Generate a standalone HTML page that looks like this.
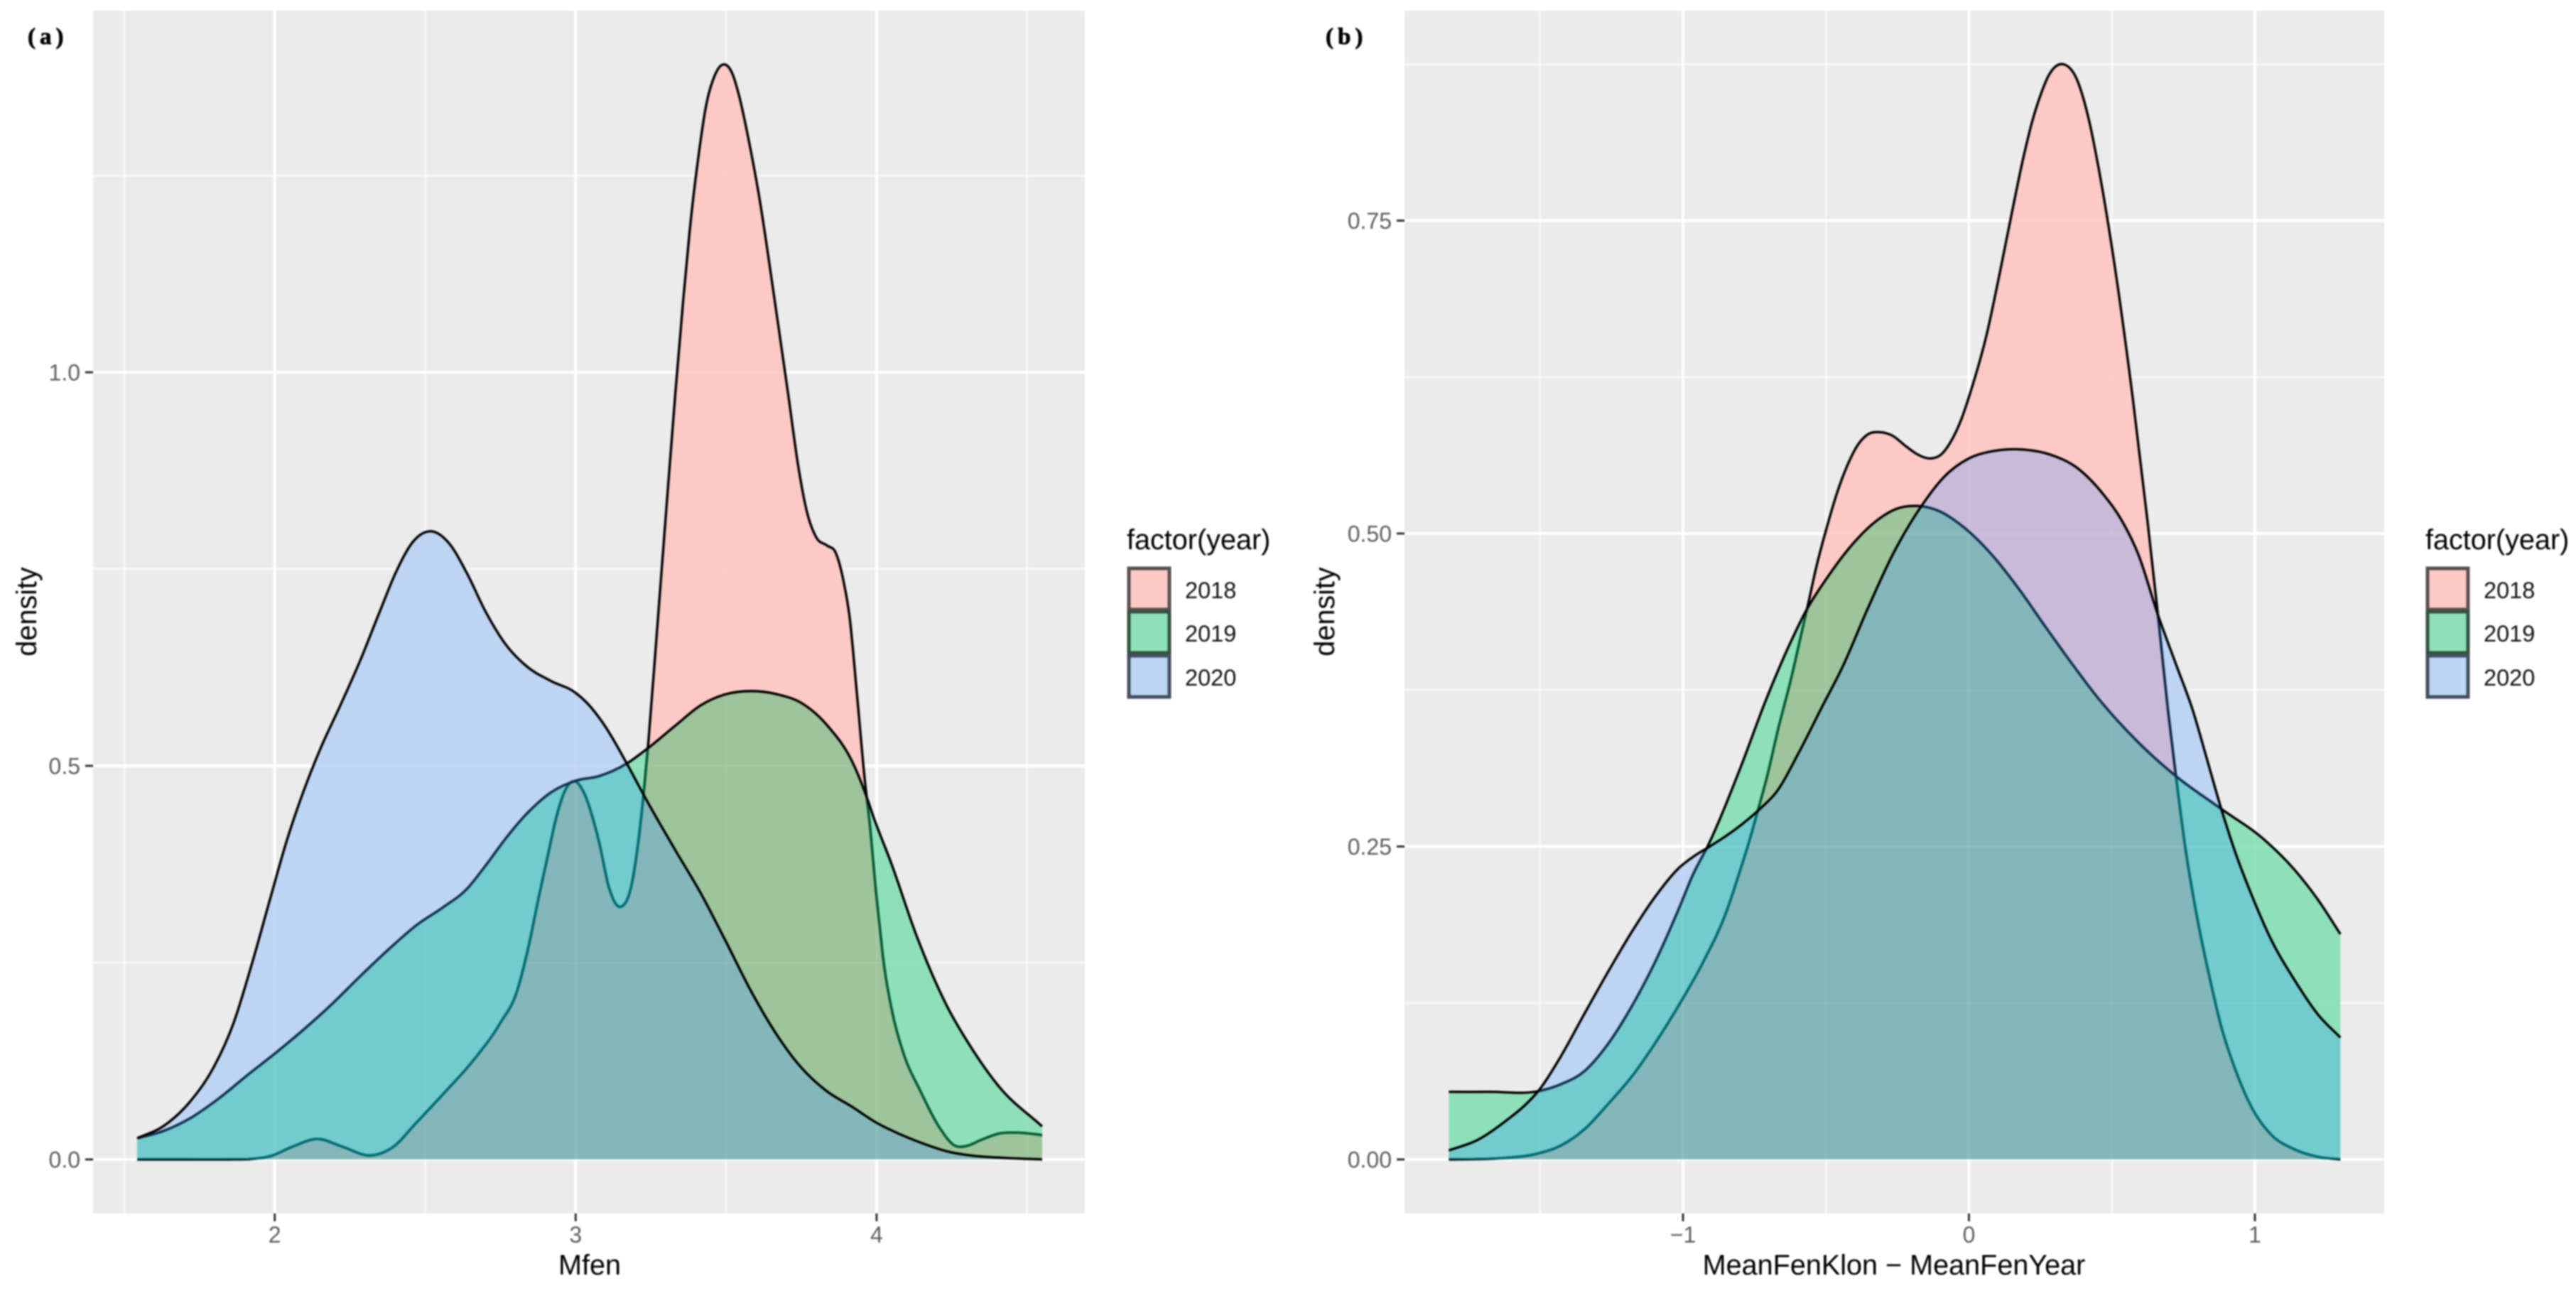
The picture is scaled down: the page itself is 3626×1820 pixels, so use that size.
<!DOCTYPE html>
<html lang="en">
<head>
<meta charset="utf-8">
<title>Density plots of Mfen and MeanFenKlon − MeanFenYear</title>
<style>
html,body{margin:0;padding:0;background:#fff;width:3626px;height:1820px;overflow:hidden}
svg{display:block;filter:blur(1px)}
text{font-family:"Liberation Sans",sans-serif}
.tick{font-size:32px;fill:#5e5e5e}
.title{font-size:39.6px;fill:#000}
.legend-label{font-size:32.5px;fill:#111}
.panel-tag{font-family:"Liberation Serif",serif;font-weight:bold;font-size:33px;letter-spacing:6px;fill:#000;stroke:#000;stroke-width:0.8px}
</style>
</head>
<body>
<svg id="chart" xmlns="http://www.w3.org/2000/svg" width="3626" height="1820" viewBox="0 0 3626 1820">
  <rect x="0" y="0" width="3626" height="1820" fill="#ffffff"/>
  <defs id="defs"></defs>
  <g id="panel-a"></g>
  <g id="panel-b"></g>

  <text class="panel-tag" x="39" y="62">(a)</text>
  <text class="panel-tag" x="1866" y="62">(b)</text>

  <text class="title" x="830" y="1794" text-anchor="middle">Mfen</text>
  <text class="title" transform="translate(51,861) rotate(-90)" text-anchor="middle">density</text>
  <text class="title" x="2666" y="1794" text-anchor="middle">MeanFenKlon − MeanFenYear</text>
  <text class="title" transform="translate(1878,861) rotate(-90)" text-anchor="middle">density</text>

  <g>
    <text class="title" x="1586" y="773">factor(year)</text>
    <g>
      <rect x="1589" y="800" width="57" height="58" fill="#FCC9C5" stroke="#5a5050" stroke-width="5"/>
      <text class="legend-label" x="1668" y="842">2018</text>
    </g>
    <g>
      <rect x="1589" y="861" width="57" height="58" fill="#8DE0B8" stroke="#34523f" stroke-width="5"/>
      <text class="legend-label" x="1668" y="903">2019</text>
    </g>
    <g>
      <rect x="1589" y="923" width="57" height="58" fill="#BDD4F3" stroke="#454f60" stroke-width="5"/>
      <text class="legend-label" x="1668" y="965">2020</text>
    </g>
  </g>

  <g>
    <text class="title" x="3414" y="773">factor(year)</text>
    <g>
      <rect x="3417" y="800" width="57" height="58" fill="#FCC9C5" stroke="#5a5050" stroke-width="5"/>
      <text class="legend-label" x="3496" y="842">2018</text>
    </g>
    <g>
      <rect x="3417" y="861" width="57" height="58" fill="#8DE0B8" stroke="#34523f" stroke-width="5"/>
      <text class="legend-label" x="3496" y="903">2019</text>
    </g>
    <g>
      <rect x="3417" y="923" width="57" height="58" fill="#BDD4F3" stroke="#454f60" stroke-width="5"/>
      <text class="legend-label" x="3496" y="965">2020</text>
    </g>
  </g>
</svg>

<script>
// ---- Panel (a): Mfen ----
const mfenTicksX = [2, 3, 4];
const mfenTickLabelsX = ["2", "3", "4"];
const mfenMinorX = [1.5, 2.5, 3.5, 4.5];
const mfenTicksY = [0, 0.5, 1];
const mfenTickLabelsY = ["0.0", "0.5", "1.0"];
const mfenMinorY = [0.25, 0.75, 1.25];

const mfenX2018 = [1.543,1.7,1.85,1.92,1.984,2.058,2.142,2.226,2.32,2.394,2.469,2.562,2.656,2.749,2.805,2.842,2.88,2.908,2.936,2.964,3.0,3.026,3.078,3.111,3.15,3.187,3.208,3.225,3.242,3.267,3.30,3.331,3.357,3.379,3.41,3.434,3.46,3.49,3.52,3.544,3.575,3.609,3.66,3.707,3.74,3.767,3.80,3.835,3.865,3.89,3.91,3.935,3.96,3.979,3.998,4.012,4.022,4.05,4.085,4.148,4.21,4.258,4.298,4.345,4.408,4.47,4.55];
const mfenD2018 = [0,0,0,.0005,.004,.016,.026,.016,.005,.016,.046,.084,.124,.173,.2135,.268,.338,.387,.435,.468,.48,.467,.403,.345,.321,.351,.403,.461,.532,.655,.82,.972,1.09,1.18,1.28,1.34,1.375,1.391,1.38,1.35,1.295,1.225,1.095,.97,.88,.825,.79,.78,.77,.735,.69,.59,.485,.42,.34,.29,.255,.191,.14,.085,.04,.018,.017,.0244,.033,.034,.031];
const mfenX2019 = [1.543,1.629,1.722,1.816,1.909,2.002,2.096,2.189,2.282,2.376,2.469,2.562,2.637,2.702,2.768,2.842,2.917,2.999,3.078,3.17,3.242,3.331,3.416,3.499,3.584,3.669,3.754,3.837,3.922,3.972,3.987,4.05,4.132,4.235,4.313,4.408,4.55];
const mfenD2019 = [.027,.036,.053,.078,.107,.135,.165,.197,.232,.266,.297,.321,.343,.374,.408,.441,.466,.481,.487,.503,.523,.551,.577,.591,.595,.591,.579,.551,.503,.455,.438,.375,.285,.194,.143,.092,.042];
const mfenX2020 = [1.543,1.629,1.722,1.797,1.862,1.923,1.984,2.04,2.096,2.152,2.217,2.282,2.348,2.404,2.46,2.52,2.581,2.637,2.702,2.768,2.842,2.917,2.999,3.035,3.095,3.17,3.229,3.331,3.416,3.499,3.584,3.669,3.74,3.83,3.92,3.998,4.078,4.156,4.235,4.313,4.423,4.55];
const mfenD2020 = [.027,.042,.075,.117,.172,.247,.33,.405,.468,.522,.576,.632,.695,.747,.785,.798,.782,.746,.695,.654,.625,.608,.593,.581,.552,.503,.461,.393,.338,.277,.213,.158,.121,.088,.0665,.047,.032,.02,.0102,.005,.002,0];

// ---- Panel (b): MeanFenKlon - MeanFenYear ----
const diffTicksX = [-1, 0, 1];
const diffTickLabelsX = ["−1", "0", "1"];
const diffMinorX = [-1.5, -0.5, 0.5];
const diffTicksY = [0, 0.25, 0.5, 0.75];
const diffTickLabelsY = ["0.00", "0.25", "0.50", "0.75"];
const diffMinorY = [0.125, 0.375, 0.625, 0.875];

const diffX2018 = [-1.819,-1.635,-1.511,-1.428,-1.345,-1.263,-1.18,-1.097,-1.015,-.931,-.848,-.807,-.766,-.733,-.708,-.666,-.621,-.59,-.564,-.533,-.497,-.462,-.426,-.391,-.355,-.311,-.266,-.222,-.178,-.133,-.098,-.062,-.027,.004,.063,.105,.149,.19,.221,.25,.279,.328,.379,.42,.451,.509,.573,.624,.661,.696,.725,.758,.799,.841,.8825,.932,.99,1.056,1.139,1.222,1.299];
const diffD2018 = [0,.001,.0045,.011,.024,.044,.066,.093,.123,.157,.198,.226,.256,.283,.304,.345,.385,.416,.442,.474,.505,.532,.554,.57,.579,.581,.578,.57,.563,.56,.563,.574,.591,.612,.66,.705,.755,.8,.829,.85,.866,.875,.862,.83,.795,.715,.608,.511,.435,.359,.304,.247,.192,.146,.106,.0715,.041,.02,.008,.002,0];
const diffX2019 = [-1.819,-1.677,-1.503,-1.428,-1.345,-1.263,-1.18,-1.097,-1.015,-.965,-.91,-.799,-.71,-.622,-.568,-.498,-.409,-.33,-.25,-.178,-.105,-.018,.088,.177,.266,.354,.443,.593,.725,.8825,1.032,1.139,1.222,1.299];
const diffD2019 = [.054,.054,.0547,.06,.0705,.092,.122,.158,.2,.2276,.252,.313,.367,.414,.439,.464,.491,.509,.52,.522,.518,.505,.481,.455,.426,.398,.371,.333,.306,.28,.2556,.2313,.207,.18];
const diffX2020 = [-1.819,-1.718,-1.611,-1.552,-1.503,-1.428,-1.345,-1.263,-1.18,-1.097,-1.015,-.96,-.91,-.815,-.724,-.675,-.595,-.515,-.443,-.354,-.267,-.16,-.088,0,.088,.195,.285,.381,.471,.533,.593,.661,.725,.783,.833,.8825,.932,.99,1.056,1.139,1.222,1.299];
const diffD2020 = [.0072,.0156,.0323,.0435,.0555,.082,.1163,.1495,.1815,.21,.2327,.2425,.2495,.264,.2815,.293,.325,.361,.393,.44,.483,.524,.545,.56,.566,.567,.563,.552,.531,.511,.483,.435,.395,.3587,.3193,.28,.245,.2105,.176,.1432,.1154,.0974];

const NS = "http://www.w3.org/2000/svg";
const defsEl = document.getElementById("defs");

function make(tag, attrs, parent) {
  const el = document.createElementNS(NS, tag);
  for (const k in attrs) el.setAttribute(k, attrs[k]);
  if (parent) parent.appendChild(el);
  return el;
}

// Smooth cubic through the data points (non-uniform finite-difference tangents), in pixel space.
function linePath(xs, ys) {
  const n = xs.length, m = [], t = [];
  for (let i = 0; i < n - 1; i++) m.push((ys[i + 1] - ys[i]) / (xs[i + 1] - xs[i]));
  t.push(m[0]);
  for (let i = 1; i < n - 1; i++) {
    const h0 = xs[i] - xs[i - 1], h1 = xs[i + 1] - xs[i];
    t.push((h1 * m[i - 1] + h0 * m[i]) / (h0 + h1));
  }
  t.push(m[n - 2]);
  let d = "M" + xs[0].toFixed(2) + "," + ys[0].toFixed(2);
  for (let i = 0; i < n - 1; i++) {
    const h = (xs[i + 1] - xs[i]) / 3;
    d += "C" + (xs[i] + h).toFixed(2) + "," + (ys[i] + t[i] * h).toFixed(2) + " " +
         (xs[i + 1] - h).toFixed(2) + "," + (ys[i + 1] - t[i + 1] * h).toFixed(2) + " " +
         xs[i + 1].toFixed(2) + "," + ys[i + 1].toFixed(2);
  }
  return d;
}

function drawPanel(host, id, box, xScale, yScale, ax, series) {
  // background
  const bg = make("rect", {x: box.l, y: box.t, width: box.r - box.l, height: box.b - box.t, fill: "#EBEBEB"}, host);
  
  

  function grid(parent, opacity) {
    ax.minorX.forEach(v => {
      const g = make("line", {x1: xScale(v), x2: xScale(v), y1: box.t, y2: box.b, stroke: "#fff", "stroke-width": 2.4, "stroke-opacity": opacity * 0.7}, parent);
      
      
    });
    ax.minorY.forEach(v => {
      const g = make("line", {x1: box.l, x2: box.r, y1: yScale(v), y2: yScale(v), stroke: "#fff", "stroke-width": 2.4, "stroke-opacity": opacity * 0.7}, parent);
      
      
    });
    ax.ticksX.forEach(v => {
      const g = make("line", {x1: xScale(v), x2: xScale(v), y1: box.t, y2: box.b, stroke: "#fff", "stroke-width": 4, "stroke-opacity": opacity}, parent);
      
      
    });
    ax.ticksY.forEach(v => {
      const g = make("line", {x1: box.l, x2: box.r, y1: yScale(v), y2: yScale(v), stroke: "#fff", "stroke-width": 4, "stroke-opacity": opacity}, parent);
      
      
    });
  }
  const gridBack = make("g", {}, host);
  
  
  grid(gridBack, 1);

  // geometry for each year
  const geo = series.map(s => {
    const px = s.x.map(xScale), py = s.d.map(yScale);
    const line = linePath(px, py);
    const area = line + "L" + px[px.length - 1].toFixed(2) + "," + yScale(0) + "L" + px[0].toFixed(2) + "," + yScale(0) + "Z";
    return {line, area};
  });
  const [P, G, B] = geo;

  // clip regions used to paint the overlap colours
  const cP = id + "-clip-2018", cG = id + "-clip-2019", cB = id + "-clip-2020",
        cPG = id + "-clip-2018-2019", cGB = id + "-clip-2019-2020", cAll = id + "-clip-union";
  make("path", {d: P.area}, make("clipPath", {id: cP}, defsEl));
  make("path", {d: G.area}, make("clipPath", {id: cG}, defsEl));
  make("path", {d: B.area}, make("clipPath", {id: cB}, defsEl));
  make("path", {d: G.area, "clip-path": "url(#" + cP + ")"}, make("clipPath", {id: cPG}, defsEl));
  make("path", {d: B.area, "clip-path": "url(#" + cG + ")"}, make("clipPath", {id: cGB}, defsEl));
  const unionClip = make("clipPath", {id: cAll}, defsEl);
  make("path", {d: P.area}, unionClip);
  make("path", {d: G.area}, unionClip);
  make("path", {d: B.area}, unionClip);

  const a1 = make("path", {d: P.area, fill: "#FCC9C5"}, host);
  
  
  const a2 = make("path", {d: G.area, fill: "#8DE0B8"}, host);
  
  
  const a3 = make("path", {d: B.area, fill: "#BDD4F3"}, host);
  
  
  const o1 = make("path", {d: G.area, fill: "#9EC49B", "clip-path": "url(#" + cP + ")"}, host);
  
  
  const o2 = make("path", {d: B.area, fill: "#C8BAD8", "clip-path": "url(#" + cP + ")"}, host);
  
  
  const o3 = make("path", {d: B.area, fill: "#72CBCD", "clip-path": "url(#" + cG + ")"}, host);
  
  
  const o4 = make("path", {d: B.area, fill: "#84B7B9", "clip-path": "url(#" + cPG + ")"}, host);
  
  

  // faint grid showing through the fills
  const gridFront = make("g", {"clip-path": "url(#" + cAll + ")"}, host);
  
  
  grid(gridFront, 0.08);

  // outlines: older years sit under the later translucent fills
  function outline(d, color, clip, name) {
    const attrs = {d: d, fill: "none", stroke: color, "stroke-width": 3.4, "stroke-linejoin": "round"};
    if (clip) attrs["clip-path"] = "url(#" + clip + ")";
    const el = make("path", attrs, host);
    
    
  }
  outline(P.line, "#000", null, "density-line-2018");
  outline(P.line, "#005c35", cG, "density-line-2018-under-2019");
  outline(P.line, "#0d2a4a", cB, "density-line-2018-under-2020");
  outline(P.line, "#006e76", cGB, "density-line-2018-under-both");
  outline(G.line, "#000", null, "density-line-2019");
  outline(G.line, "#0f3355", cB, "density-line-2019-under-2020");
  outline(B.line, "#000", null, "density-line-2020");

  // ticks + labels
  ax.ticksX.forEach((v, i) => {
    const t = make("line", {x1: xScale(v), x2: xScale(v), y1: box.b, y2: box.b + 11, stroke: "#333", "stroke-width": 3}, host);
    
    
    const l = make("text", {x: xScale(v), y: box.b + 41, "text-anchor": "middle", class: "tick"}, host);
    
    
    l.textContent = ax.labelsX[i];
  });
  ax.ticksY.forEach((v, i) => {
    const t = make("line", {x1: box.l - 11, x2: box.l, y1: yScale(v), y2: yScale(v), stroke: "#333", "stroke-width": 3}, host);
    
    
    const l = make("text", {x: box.l - 18, y: yScale(v) + 11.5, "text-anchor": "end", class: "tick"}, host);
    
    
    l.textContent = ax.labelsY[i];
  });
}

drawPanel(
  document.getElementById("panel-a"), "a",
  {l: 131, r: 1527, t: 15, b: 1708},
  v => 386.7 + (v - 2) * 423.6,
  d => 1632 - d * 1108,
  {ticksX: mfenTicksX, labelsX: mfenTickLabelsX, minorX: mfenMinorX,
   ticksY: mfenTicksY, labelsY: mfenTickLabelsY, minorY: mfenMinorY},
  [{x: mfenX2018, d: mfenD2018}, {x: mfenX2019, d: mfenD2019}, {x: mfenX2020, d: mfenD2020}]
);

drawPanel(
  document.getElementById("panel-b"), "b",
  {l: 1977, r: 3356, t: 15, b: 1708},
  v => 2771.5 + v * 402.5,
  d => 1632 - d * 1762,
  {ticksX: diffTicksX, labelsX: diffTickLabelsX, minorX: diffMinorX,
   ticksY: diffTicksY, labelsY: diffTickLabelsY, minorY: diffMinorY},
  [{x: diffX2018, d: diffD2018}, {x: diffX2019, d: diffD2019}, {x: diffX2020, d: diffD2020}]
);
</script>
</body>
</html>
